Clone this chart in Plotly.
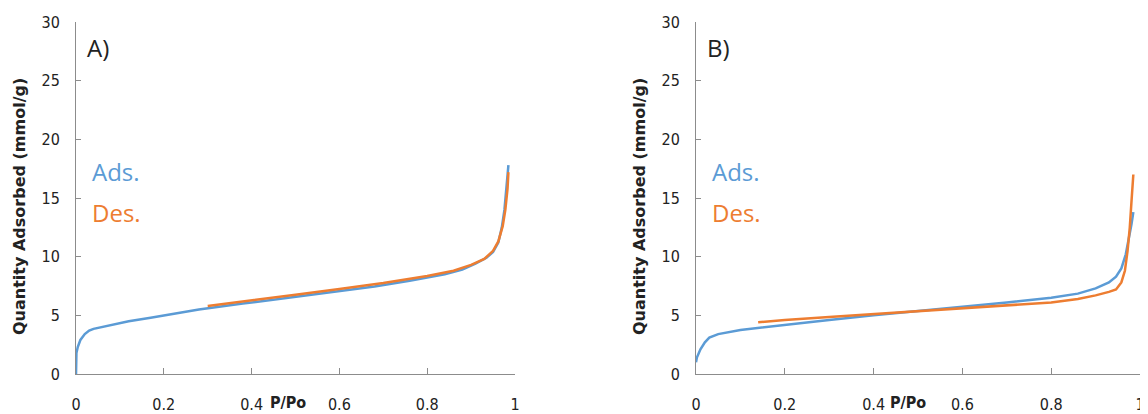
import plotly.graph_objects as go

# Panel A
a_ads_x = [0.0, 0.001, 0.004, 0.01, 0.02, 0.03, 0.04, 0.06, 0.08, 0.12, 0.17, 0.2, 0.28, 0.38, 0.48, 0.58, 0.68, 0.76, 0.84, 0.88, 0.91, 0.935, 0.95, 0.962, 0.97, 0.976, 0.981, 0.985]
a_ads_y = [0.0, 1.8, 2.3, 2.9, 3.4, 3.7, 3.85, 4.0, 4.15, 4.5, 4.8, 5.0, 5.5, 6.0, 6.5, 6.95, 7.45, 7.95, 8.5, 8.9, 9.4, 9.9, 10.4, 11.2, 12.5, 14.0, 15.8, 17.8]
a_des_x = [0.3, 0.4, 0.5, 0.6, 0.7, 0.8, 0.86, 0.9, 0.93, 0.95, 0.962, 0.972, 0.978, 0.983, 0.985]
a_des_y = [5.8, 6.25, 6.75, 7.25, 7.75, 8.35, 8.8, 9.3, 9.8, 10.5, 11.3, 12.6, 14.0, 15.8, 17.2]

# Panel B
b_ads_x = [0.0, 0.002, 0.01, 0.02, 0.03, 0.05, 0.1, 0.2, 0.3, 0.4, 0.5, 0.6, 0.7, 0.8, 0.86, 0.9, 0.93, 0.946, 0.958, 0.968, 0.975, 0.981, 0.985]
b_ads_y = [1.0, 1.4, 2.1, 2.7, 3.1, 3.4, 3.75, 4.2, 4.6, 5.0, 5.35, 5.7, 6.1, 6.5, 6.85, 7.3, 7.8, 8.3, 9.0, 10.2, 11.5, 12.8, 13.8]
b_des_x = [0.14, 0.2, 0.3, 0.4, 0.5, 0.6, 0.7, 0.8, 0.86, 0.9, 0.93, 0.946, 0.958, 0.966, 0.972, 0.977, 0.981, 0.985]
b_des_y = [4.4, 4.6, 4.85, 5.1, 5.35, 5.6, 5.85, 6.1, 6.4, 6.7, 7.0, 7.2, 7.8, 8.8, 10.5, 12.5, 14.8, 17.0]

x_ticks = [0, 0.2, 0.4, 0.6, 0.8, 1]
x_tick_text = ["0", "0.2", "0.4", "0.6", "0.8", "1"]
y_ticks = [0, 5, 10, 15, 20, 25, 30]
y_tick_text = ["0", "5", "10", "15", "20", "25", "30"]

BLUE = "#5B9BD5"
ORANGE = "#ED7D31"
FONT = "DejaVu Sans Condensed, Roboto, Arial"
TFONT = "Open Sans, Lato, Arial"

# page has an 8px body margin; the figure is sized to fill the rest of the window
OFF = 8
W, H = 1148 - OFF, 414 - OFF
ML, MR = 0, 4
PW = W - ML - MR

def dx(px):
    return (px - OFF - ML) / PW

def dy(py):
    return 1 - (py - OFF) / H

fig = go.Figure()
fig.add_trace(go.Scatter(x=a_ads_x, y=a_ads_y, mode="lines", line=dict(color=BLUE, width=2.5), xaxis="x", yaxis="y", showlegend=False))
fig.add_trace(go.Scatter(x=a_des_x, y=a_des_y, mode="lines", line=dict(color=ORANGE, width=2.5), xaxis="x", yaxis="y", showlegend=False))
fig.add_trace(go.Scatter(x=b_ads_x, y=b_ads_y, mode="lines", line=dict(color=BLUE, width=2.5), xaxis="x2", yaxis="y2", showlegend=False))
fig.add_trace(go.Scatter(x=b_des_x, y=b_des_y, mode="lines", line=dict(color=ORANGE, width=2.5), xaxis="x2", yaxis="y2", showlegend=False))

xax = dict(range=[0, 1], tickvals=x_ticks, ticktext=x_tick_text, showgrid=False, zeroline=False,
           showline=True, linecolor="#8c8c8c", linewidth=1, ticks="inside", ticklen=6, tickcolor="#8c8c8c",
           ticklabelstandoff=16, tickfont=dict(family=FONT, size=16, color="#222"), fixedrange=True,
           automargin=False)
yax = dict(range=[0, 30], tickvals=y_ticks, ticktext=y_tick_text, showgrid=False, zeroline=False,
           showline=True, linecolor="#8c8c8c", linewidth=1, ticks="inside", ticklen=5, tickcolor="#8c8c8c",
           ticklabelstandoff=12, tickfont=dict(family=FONT, size=16, color="#222"), fixedrange=True,
           automargin=False)

ydom = [dy(374), dy(22)]
fig.update_layout(
    template="none",
    width=W, height=H, margin=dict(l=ML, r=MR, t=0, b=0, autoexpand=False),
    paper_bgcolor="white", plot_bgcolor="white",
    xaxis=dict(xax, domain=[dx(76), dx(515)], anchor="y"),
    yaxis=dict(yax, domain=ydom, anchor="x"),
    xaxis2=dict(xax, domain=[dx(696), dx(1140)], anchor="y2"),
    yaxis2=dict(yax, domain=ydom, anchor="x2"),
)

def ann(text, x, y, size, color="#222", bold=False, angle=0, xanchor="center", family=TFONT):
    fig.add_annotation(text=f"<b>{text}</b>" if bold else text, x=dx(x), y=dy(y),
                       xref="paper", yref="paper", showarrow=False, textangle=angle,
                       xanchor=xanchor, yanchor="middle",
                       font=dict(family=family, size=size, color=color))

for off, lab in [(0, "A)"), (620, "B)")]:
    ann(lab, 85 + off, 47, 24, xanchor="left")
    ann("Ads.", 90 + off, 172, 24, color=BLUE, xanchor="left")
    ann("Des.", 90 + off, 212, 24, color=ORANGE, xanchor="left")
    ann("Quantity Adsorbed (mmol/g)", 19 + off, 207, 16, bold=True, angle=-90, family="DejaVu Sans, Verdana")
    ann("P/Po", 268 + off, 402, 16, bold=True, xanchor="left", family=FONT)

fig.write_html("out.html")
